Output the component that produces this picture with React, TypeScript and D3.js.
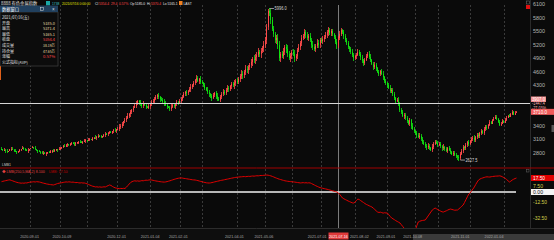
import React from 'react';
import * as d3 from 'd3';

// ---- daily closes (one per trading day), by month ----
const closesAug20 = [2880, 2860, 2870, 2845, 2830, 2850, 2875, 2890, 2870, 2850, 2835, 2820, 2840, 2860, 2880, 2900, 2885, 2865, 2850, 2870, 2890];
const closesSep20 = [2900, 2920, 2905, 2880, 2860, 2840, 2825, 2810, 2790, 2800, 2780, 2795, 2815, 2800, 2830, 2850, 2840, 2860, 2880, 2870, 2890, 2910];
const closesOct20 = [2930, 2950, 2940, 2970, 2990, 2975, 3000, 3020, 3005, 2990, 3010, 3030, 3050, 3040, 3025, 3045, 3060, 3080, 3070];
const closesNov20 = [3090, 3110, 3095, 3120, 3140, 3130, 3160, 3180, 3170, 3150, 3175, 3200, 3220, 3210, 3240, 3260, 3250, 3280, 3300, 3290, 3320];
const closesDec20 = [3340, 3370, 3400, 3450, 3500, 3540, 3580, 3620, 3660, 3700, 3760, 3800, 3850, 3900, 3950, 3920, 3880, 3850, 3900, 3870, 3820, 3800, 3840, 3880];
const closesJan21 = [3920, 3960, 4000, 4050, 4080, 4040, 4000, 3980, 3940, 3900, 3860, 3820, 3800, 3780, 3820, 3860, 3840, 3880, 3920, 3900, 3950];
const closesFeb21 = [4000, 4050, 4100, 4150, 4120, 4180, 4220, 4260, 4300, 4360, 4420, 4460, 4400, 4440, 4380, 4350];
const closesMar21 = [4300, 4250, 4200, 4150, 4100, 4060, 4020, 4080, 4120, 4060, 4000, 3980, 4040, 4100, 4160, 4140, 4200, 4250, 4220, 4280, 4320, 4300, 4350, 4400, 4380];
const closesApr21 = [4450, 4500, 4560, 4540, 4600, 4660, 4640, 4700, 4760, 4820, 4880, 4860, 4920, 4980, 5040, 5000, 5060, 5120, 5200, 5300];
const closesMay21 = [5600, 5950, 5900, 5750, 5550, 5450, 5300, 5350, 5200, 4900, 5000, 4950, 5050, 5150, 5100, 5000, 4900, 4950, 5050];
const closesJun21 = [5000, 4900, 4950, 5080, 5150, 5250, 5350, 5400, 5480, 5420, 5350, 5400, 5300, 5200, 5150, 5100, 5180, 5250, 5200, 5300, 5280];
const closesJul21 = [5320, 5380, 5420, 5480, 5520, 5460, 5500, 5430, 5380, 5260, 5185, 5354.4, 5450, 5520, 5480, 5400, 5300, 5250, 5150, 5100, 5050, 4980, 4900, 4950];
const closesAug21 = [4980, 5050, 5000, 4920, 4850, 4800, 4870, 4950, 5000, 4940, 4860, 4780, 4700, 4750, 4680, 4600, 4550, 4620, 4560, 4480, 4400, 4350, 4300];
const closesSep21 = [4250, 4180, 4200, 4100, 4020, 3950, 3980, 3880, 3760, 3700, 3620, 3650, 3580, 3500, 3450, 3520, 3400, 3330, 3280, 3250];
const closesOct21 = [3200, 3150, 3180, 3100, 3050, 3000, 2960, 2920, 2950, 2900, 2870, 2940, 3000, 3050, 3020, 2980];
const closesNov21 = [3000, 2950, 2900, 2930, 2880, 2850, 2900, 2860, 2820, 2780, 2800, 2760, 2720, 2700, 2680, 2780, 2850, 2920, 2900, 2970, 3040, 3000, 3060];
const closesDec21 = [3100, 3140, 3080, 3150, 3200, 3170, 3230, 3280, 3250, 3320, 3380, 3350, 3420, 3480, 3450, 3520, 3560, 3600, 3550, 3480, 3420, 3450, 3500, 3470];
const closesJan22 = [3530, 3580, 3620, 3600, 3660, 3700, 3650, 3690, 3710];

const closes = [
  ...closesAug20, ...closesSep20, ...closesOct20, ...closesNov20, ...closesDec20,
  ...closesJan21, ...closesFeb21, ...closesMar21, ...closesApr21, ...closesMay21,
  ...closesJun21, ...closesJul21, ...closesAug21, ...closesSep21, ...closesOct21,
  ...closesNov21, ...closesDec21, ...closesJan22,
];

// shadow lengths (units of 15 points)
const wickUp = [2,1,3,1,2,0,1,2,3,1, 2,1,0,2,1,3,2,1,1,2, 0,1,2,1,3,1,0,2,1,2, 3,1,2,0,1,2,1,3,2,1, 1,2,1,0,2,3,1,2,1,1, 2,1,3,2,0,1,2,1,1,3, 2,1,2,1,0,2,1,3,1,2, 1,2,0,1,3,2,1,2,1,0, 2,3,1,2,4,2,3,1,2,3, 4,2,3,1,2,4,3,2,1,3, 2,4,1,3,2,3,1,4,2,3, 3,2,4,1,3,2,4,3,1,2, 3,4,2,3,1,4,2,3,3,2, 4,2,3,1,3,4,2,3,2,4, 3,2,4,3,2,3,1,4,3,2, 3,4,2,3,4,2,3,3,4,2, 3,4,3,2,4,3,5,3,4,2, 3,5,4,3,6,5,4,3,5,4, 6,5,4,6,3,5,4,6,5,4, 3,5,6,4,5,3,4,6,5,3, 4,5,3,4,6,4,5,3,4,5, 3,4,5,3,4,2,5,3,4,3, 4,3,5,4,3,5,4,3,4,5, 3,4,3,5,4,3,4,2,3,4, 3,4,3,2,4,3,4,3,2,3, 4,3,2,3,4,2,3,4,3,2, 3,2,4,3,2,3,4,3,2,3, 2,3,4,2,3,2,3,4,2,3, 3,2,3,4,3,2,4,3,2,3, 2,3,2,4,3,2,3,2,4,3, 3,2,3,2,4,3,2,3,3,2, 2,3,2,3,2,4,2,3,2,3, 3,2,3,2,3,2,4,3,2,3, 2,3,2,3,2,3,2,4,2,3, 3,2,3,2,3,2,3,2,4,2, 2,3,2,3,2,3,2,3,2,3, 3,2,3,2,3,2,3,2,3,2, 2,3,2,3,2,3,2,3];
const wickDn = [1,2,1,3,2,1,0,2,1,2, 1,3,2,1,2,0,1,2,1,3, 2,1,0,2,1,2,3,1,2,1, 2,1,3,2,1,0,2,1,2,1, 3,1,2,1,2,1,0,3,2,1, 2,1,2,3,1,2,1,0,2,1, 3,2,1,2,1,2,0,1,3,2, 1,2,1,2,3,1,2,1,0,2, 3,2,4,1,3,2,3,4,2,3, 2,3,4,2,3,1,3,2,4,3, 3,4,2,3,1,2,4,3,2,3, 2,3,3,4,2,3,4,2,3,1, 4,3,2,3,4,2,3,1,4,3, 2,3,4,3,2,4,3,2,3,4, 2,4,3,2,3,4,2,3,4,3, 4,2,3,4,3,2,4,3,2,3, 4,3,5,3,4,2,5,4,3,4, 5,4,6,5,4,5,6,4,5,6, 4,6,5,4,5,6,3,5,4,6, 5,4,6,3,5,4,5,6,4,5, 3,4,5,6,4,3,5,4,3,5, 4,5,3,4,5,3,4,5,3,4, 3,4,5,3,4,3,5,4,3,4, 4,3,4,5,3,4,3,4,3,5, 4,3,4,3,4,2,4,3,4,3, 3,4,3,4,2,3,4,3,4,3, 2,3,4,3,2,4,3,4,2,3, 3,2,4,3,3,4,2,3,4,2, 3,4,2,3,4,3,2,4,3,3, 2,3,4,2,3,3,4,2,3,2, 3,2,3,4,2,3,2,3,4,2, 2,3,2,3,4,2,3,2,3,2, 3,2,3,2,3,4,2,3,2,3, 2,3,2,3,2,3,2,3,2,3, 3,2,3,2,3,2,3,2];
const firstOpen = 2895;
const peakBar = { idx: 190, high: 5996.0 };
const lowBar = { idx: 326, low: 2627.5 };

// ---- LMB indicator values ----
const lmbAug20 = [12.9, 13.4, 13.8, 14.2, 14.6, 15.0, 15.2, 14.5, 13.9, 13.2, 12.6, 12.0, 11.6, 11.3, 11.0, 11.2, 11.0, 11.4, 11.3, 11.8, 12.2];
const lmbSep20 = [12.4, 12.6, 12.8, 12.5, 12.9, 12.7, 12.5, 12.0, 11.5, 11.0, 10.6, 10.1, 9.8, 9.5, 9.2, 9.0, 8.8, 9.3, 10.0, 10.6, 11.0, 11.3];
const lmbOct20 = [11.6, 12.0, 12.3, 12.6, 12.4, 12.7, 12.5, 12.2, 12.4, 12.0, 11.7, 11.9, 11.5, 11.3, 11.6, 11.2, 11.3, 10.8, 10.2];
const lmbNov20 = [9.4, 8.6, 7.9, 7.2, 6.8, 6.3, 6.5, 6.1, 6.4, 6.0, 6.2, 6.5, 6.3, 7.2, 8.0, 8.8, 8.2, 7.0, 6.0, 5.2, 4.8];
const lmbDec20 = [4.4, 4.2, 4.5, 4.3, 4.6, 4.4, 6.0, 8.0, 10.0, 11.8, 13.0, 13.6, 14.0, 13.6, 13.9, 13.5, 13.8, 14.2, 14.0, 14.5, 14.8, 14.6, 15.0, 15.2];
const lmbJan21 = [15.0, 14.6, 14.2, 13.8, 13.5, 13.2, 12.9, 12.7, 12.5, 12.4, 12.6, 13.0, 13.5, 14.0, 14.6, 15.2, 15.8, 16.3, 16.8, 17.2, 17.5];
const lmbFeb21 = [17.6, 17.4, 17.0, 16.8, 16.5, 16.2, 15.9, 15.6, 15.3, 15.1, 15.0, 14.6, 14.2, 13.7, 13.2, 12.8];
const lmbMar21 = [12.3, 11.9, 11.5, 11.3, 11.2, 11.4, 11.8, 12.2, 12.7, 13.1, 13.5, 13.9, 14.3, 14.7, 15.0, 15.4, 15.8, 16.1, 16.5, 16.9, 17.3, 17.6, 18.0, 18.3, 18.5];
const lmbApr21 = [18.7, 18.9, 19.0, 19.2, 19.3, 19.1, 19.4, 19.6, 19.5, 19.8, 20.0, 19.8, 20.1, 20.3, 20.2, 20.5, 20.7, 20.6, 20.9, 21.0];
const lmbMay21 = [21.2, 21.0, 20.6, 20.1, 19.5, 18.8, 18.0, 17.3, 16.6, 16.0, 15.5, 15.0, 14.5, 14.0, 13.7, 13.4, 13.2, 13.0, 12.8];
const lmbJun21 = [12.6, 12.4, 12.1, 11.8, 11.6, 11.3, 11.5, 11.7, 11.4, 11.6, 11.3, 11.5, 11.3, 10.5, 9.6, 8.7, 7.8, 7.0, 6.2, 5.5, 5.0];
const lmbJul21 = [4.6, 4.2, 3.8, 3.4, 3.0, 2.5, 2.0, 1.5, 1.0, 0.5, 0.0, -1.2, -3.0, -5.2, -7.5, -8.5, -9.4, -10.3, -11.2, -12.0, -12.8, -13.5, -13.8, -12.5];
const lmbAug21 = [-10.5, -8.8, -9.5, -10.8, -12.0, -13.2, -14.4, -15.5, -16.3, -17.2, -18.0, -18.8, -20.3, -21.8, -23.5, -25.0, -25.6, -25.2, -25.8, -26.4, -25.9, -26.2, -26.3];
const lmbSep21 = [-28.5, -30.5, -32.5, -33.5, -34.6, -35.8, -36.8, -37.8, -38.8, -41.0, -43.2, -45.4, -47.5, -48.4, -49.2, -50.0, -50.3, -49.8, -48.8, -47.5];
const lmbOct21 = [-42.0, -37.5, -36.6, -36.0, -35.6, -35.3, -35.0, -32.5, -30.0, -27.5, -25.0, -22.5, -21.2, -20.0, -21.0, -22.0];
const lmbNov21 = [-23.0, -24.0, -24.8, -25.0, -24.2, -23.5, -22.6, -21.8, -21.3, -21.8, -22.3, -22.8, -22.6, -22.5, -21.0, -19.5, -17.8, -16.3, -13.0, -9.5, -6.0, -2.5, -1.2];
const lmbDec21 = [1.5, 3.8, 6.3, 9.5, 12.5, 15.0, 16.2, 17.0, 17.6, 18.2, 18.7, 19.0, 18.8, 18.7, 19.1, 19.4, 19.6, 19.8, 19.9, 20.0, 20.2, 19.8, 19.0, 18.0];
const lmbJan22 = [17.0, 15.6, 14.0, 12.5, 13.6, 15.0, 16.0, 16.8, 17.5];
const lmb = [
  ...lmbAug20, ...lmbSep20, ...lmbOct20, ...lmbNov20, ...lmbDec20, ...lmbJan21,
  ...lmbFeb21, ...lmbMar21, ...lmbApr21, ...lmbMay21, ...lmbJun21, ...lmbJul21,
  ...lmbAug21, ...lmbSep21, ...lmbOct21, ...lmbNov21, ...lmbDec21, ...lmbJan22,
];

// ---- axes / ticks ----
const gridIdx = [20, 42, 61, 82, 106, 127, 143, 168, 188, 207, 228, 252, 275, 295, 311, 334, 358];
const dateLabels = ['2020-09-01', '2020-10-09', '2020-12-01', '2021-01-04', '2021-02-01', '2021-04-01', '2021-05-06', '2021-07-01', '2021-08-02', '2021-09-01', '2021-10-08', '2021-11-01', '2022-01-04'];
const dateLabelIdx = [20, 43, 82, 106, 126, 166, 187, 225, 255, 274, 293, 327, 351];
const priceTicks = [6100, 5800, 5500, 5200, 4900, 4600, 4300, 4000, 3700, 3400, 3100, 2800];
const lmbTicks = [7.5, -12.5, -32.5];
const cursorIdx = 240;
const cursorDate = '2021-07-16';
const crossPrice = 3907.0;

const infoLabels = ['开盘', '最高', '最低', '收盘', '成交量', '持仓量', '涨幅', '公式指标(AVP)'];
const infoValues = ['5185.0', '5371.4', '5165.1', '5354.4', '38.19万', '47.65万', '0.57%', ''];
const infoColors = ['#e6dfa8', '#e6dfa8', '#e6dfa8', '#ff4848', '#e6dfa8', '#e6dfa8', '#ff4848', '#e6dfa8'];

// header pieces: text, x, colour
const headerItems: [string, number, string][] = [
  ['1738', 52, '#3cc8c8'],
  ['2021/07/16 0:00:00', 62, '#e0e000'],
  ['Cl', 95, '#e8e8e8'],
  ['5354.4', 99, '#ff4848'],
  ['29.4', 111, '#ff4848'],
  ['0.57%', 119, '#ff4848'],
  ['Op', 130, '#e8e8e8'],
  ['5185.0', 135, '#e8e8e8'],
  ['Hi', 147, '#e8e8e8'],
  ['5370.4', 151, '#ff4848'],
  ['Lo', 163, '#e8e8e8'],
  ['5165.1', 167.5, '#e8e8e8'],
  ['LAST', 183.5, '#e8e8e8'],
];

const FONT = "'Liberation Sans','Noto Sans CJK SC',sans-serif";
const CJK = "'Noto Sans CJK SC','Liberation Sans',sans-serif";
const UP = '#ff4a4a';
const DOWN = '#10e010';

export default function App() {
  const W = 554, H = 240;
  const N = closes.length;
  const x = d3.scaleBand<number>().domain(d3.range(N)).range([1, 517]).paddingInner(0.25);
  const cx = (i: number) => (x(i) as number) + x.bandwidth() / 2;
  const yP = d3.scaleLinear().domain([2600, 6100]).range([161.8, 4.3]);
  const yL = d3.scaleLinear().domain([0, 7.5]).range([192, 186]);

  const candles = closes.map((c, i) => {
    const o = i === 0 ? firstOpen : closes[i - 1];
    let h = Math.max(o, c) + (wickUp[i] ?? 1) * 15;
    let l = Math.min(o, c) - (wickDn[i] ?? 1) * 15;
    if (i === peakBar.idx) h = peakBar.high;
    if (i === lowBar.idx) l = lowBar.low;
    return { i, o, c, h, l, up: c >= o };
  });

  const line = d3.line<number>().x((_, i) => cx(i)).y((v) => yL(v));
  const lastClose = closes[N - 1];
  const lastLmb = lmb[lmb.length - 1];
  const cursorClose = closes[cursorIdx];
  const crossY = yP(crossPrice);
  const diff = crossPrice - cursorClose;
  const pct = (diff / cursorClose) * 100;

  const boxYs = [crossY, yP(lastClose)];
  const shownTicks = priceTicks.filter((t) => boxYs.every((b) => Math.abs(yP(t) - b) > 5));

  const curX = Math.round(cx(cursorIdx)) + 0.5;
  const pkX = cx(peakBar.idx), pkY = yP(peakBar.high);
  const lwX = cx(lowBar.idx), lwY = yP(lowBar.low);

  const rowY = (k: number) => 24.5 + k * 5.6;
  const T = (props: any) => <text lengthAdjust="spacingAndGlyphs" {...props} />;

  return (
    <div style={{ position: 'fixed', left: 0, top: 0, width: W, height: H, background: '#0a0a0a' }}>
      <svg width={W} height={H} style={{ display: 'block', fontFamily: FONT }}>
        <defs>
          <clipPath id="mainClip"><rect x={0} y={3} width={530} height={165} /></clipPath>
          <clipPath id="indClip"><rect x={0} y={169} width={530} height={59} /></clipPath>
        </defs>
        <rect x={0} y={0} width={W} height={H} fill="#0a0a0a" />

        {/* grid */}
        {gridIdx.map((g) => {
          const gx = Math.round(cx(g)) + 0.5;
          return <line key={g} x1={gx} x2={gx} y1={5} y2={228} stroke="#3a3a3a" strokeDasharray="2 2" />;
        })}
        {/* cursor vertical */}
        <line x1={curX} x2={curX} y1={5} y2={228} stroke="#7c7c7c" />

        {/* candles */}
        <g clipPath="url(#mainClip)" shapeRendering="crispEdges">
          {candles.map((d) => {
            const col = d.up ? UP : DOWN;
            const bx = Math.round(x(d.i) as number);
            const yt = yP(Math.max(d.o, d.c));
            const yb = yP(Math.min(d.o, d.c));
            return (
              <g key={d.i}>
                <rect x={bx} y={yP(d.h)} width={1} height={Math.max(1, yP(d.l) - yP(d.h))} fill={col} opacity={0.8} />
                <rect x={bx} y={yt} width={1} height={Math.max(1, yb - yt)} fill={col} />
              </g>
            );
          })}
        </g>

        {/* peak / low markers */}
        <line x1={pkX + 1.5} x2={pkX + 6} y1={pkY - 0.5} y2={pkY - 0.5} stroke="#cfcfcf" strokeWidth={0.7} />
        <T x={pkX + 6.5} y={pkY + 1.2} fontSize={4.6} fill="#d8d8d8" textLength={12}>{peakBar.high.toFixed(1)}</T>
        <line x1={lwX + 1.5} x2={lwX + 6} y1={lwY - 0.5} y2={lwY - 0.5} stroke="#cfcfcf" strokeWidth={0.7} />
        <T x={lwX + 6.5} y={lwY + 1.2} fontSize={4.6} fill="#d8d8d8" textLength={12}>{lowBar.low.toFixed(1)}</T>

        {/* crosshair horizontal */}
        <line x1={0} x2={530} y1={Math.round(crossY) + 0.5} y2={Math.round(crossY) + 0.5} stroke="#d6d6d6" />

        {/* right axis */}
        <line x1={530.5} x2={530.5} y1={0} y2={228} stroke="#2a2a2a" />
        {shownTicks.map((t) => (
          <T key={t} x={533} y={yP(t) + 1.8} fontSize={4.8} fill="#b4b4b4" textLength={12}>{t}</T>
        ))}
        <rect x={531} y={crossY - 6.5} width={15} height={5.5} fill="#f08a8a" />
        <T x={532} y={crossY - 2.2} fontSize={4.6} fill="#ffffff" textLength={13}>{crossPrice.toFixed(1)}</T>
        <T x={532} y={crossY + 2.4} fontSize={4.6} fill="#f0b0b0" textLength={13}>{diff.toFixed(1)}</T>
        <T x={532} y={crossY + 6.6} fontSize={4.6} fill="#f0b0b0" textLength={14}>{pct.toFixed(2) + '%'}</T>
        <rect x={531} y={yP(lastClose) - 3} width={23} height={6} fill="#f05a5a" />
        <T x={533} y={yP(lastClose) + 1.8} fontSize={4.8} fill="#ffffff" textLength={14}>{lastClose.toFixed(1)}</T>
        <rect x={551.5} y={125} width={2.5} height={7} fill="#555" />
        <rect x={526.5} y={1} width={3} height={3} fill="none" stroke="#666" strokeWidth={0.6} />
        <rect x={526} y={5} width={4} height={4} fill="#e01010" />

        {/* pane separator */}
        <line x1={0} x2={W} y1={168} y2={168} stroke="#a00000" />
        <T x={2} y={166} fontSize={4.2} fill="#c8c8c8" textLength={9}>LMB1</T>
        <text x={2} y={173} fontSize={3.6} fill="#e04040">◆ LMB(250,5,MA,2)  8.100</text>
        <text x={49} y={173} fontSize={3.6} fill="#c00000">{'LMB: ' + lastLmb.toFixed(2)}</text>

        {/* indicator */}
        <line x1={0} x2={516} y1={yL(0)} y2={yL(0)} stroke="#f2f2f2" strokeWidth={1.4} />
        <path d={line(lmb) ?? ''} clipPath="url(#indClip)" fill="none" stroke="#e00000" strokeWidth={1} />
        {lmbTicks.map((t) => (
          <T key={t} x={533} y={yL(t) + 1.8} fontSize={4.8} fill="#d4d04a" textLength={t < 0 ? 14 : 10}>{t.toFixed(2)}</T>
        ))}
        <rect x={531} y={yL(lastLmb) - 3} width={23} height={6} fill="#e00000" />
        <T x={533} y={yL(lastLmb) + 1.8} fontSize={4.8} fill="#ffffff" textLength={12}>{lastLmb.toFixed(2)}</T>
        <rect x={531} y={yL(0) - 3} width={23} height={6} fill="#f4f4f4" />
        <T x={533} y={yL(0) + 1.8} fontSize={4.8} fill="#111" textLength={10}>0.00</T>
        <rect x={526.5} y={169.5} width={2.5} height={2.5} fill="none" stroke="#666" strokeWidth={0.5} />

        {/* date axis */}
        <rect x={0} y={228} width={W} height={12} fill="#0e0e0e" />
        <line x1={0} x2={W} y1={228.5} y2={228.5} stroke="#2c2c2c" />
        <rect x={413} y={234} width={141} height={6} fill="#3a3a3a" />
        {dateLabels.map((lb, k) => (
          <text key={lb} x={cx(dateLabelIdx[k])} y={237.5} fontSize={3.7} fill="#a8a8a8" textAnchor="middle">{lb}</text>
        ))}
        <rect x={curX - 10} y={232.5} width={20} height={7} fill="#e03a3a" />
        <text x={curX} y={237.5} fontSize={3.7} fill="#ffffff" textAnchor="middle">{cursorDate}</text>

        {/* header line */}
        <text x={1} y={4.6} fontSize={4.3} fill="#e8e8e8" fontFamily={CJK}>8888 有色金属指数</text>
        <rect x={46} y={1} width={4} height={4.5} fill="#1aa6a6" />
        {headerItems.map(([s, hx, col]) => (
          <text key={s + hx} x={hx} y={4.5} fontSize={3.3} fill={col}>{s}</text>
        ))}
        <rect x={179} y={1} width={3.5} height={4} fill="#f08020" />

        {/* info panel */}
        <line x1={0.5} x2={0.5} y1={12} y2={80} stroke="#e0601a" />
        <rect x={0} y={12} width={58} height={54} fill="#0c0c0c" stroke="#4a4a4a" strokeWidth={0.6} />
        <rect x={0} y={5.5} width={58} height={6.5} fill="#21405e" />
        <T x={2} y={10.5} fontSize={4.4} fill="#ffffff" fontFamily={CJK} textLength={17}>数据窗口</T>
        <rect x={40.5} y={7.5} width={3} height={3} fill="none" stroke="#ddd" strokeWidth={0.5} />
        <text x={52} y={10.5} fontSize={4.6} fill="#dddddd">×</text>
        <T x={2} y={19} fontSize={4.2} fill="#e8e8e8" fontFamily={CJK} textLength={27}>2021/07/16(五)</T>
        {infoLabels.map((lb, k) => (
          <g key={lb}>
            <text x={2} y={rowY(k)} fontSize={4} fill="#e0e0e0" fontFamily={CJK}>{lb}</text>
            {infoValues[k] ? (
              <T x={55} y={rowY(k)} fontSize={4} fill={infoColors[k]} textAnchor="end" fontFamily={CJK} textLength={12}>{infoValues[k]}</T>
            ) : null}
          </g>
        ))}
      </svg>
    </div>
  );
}
